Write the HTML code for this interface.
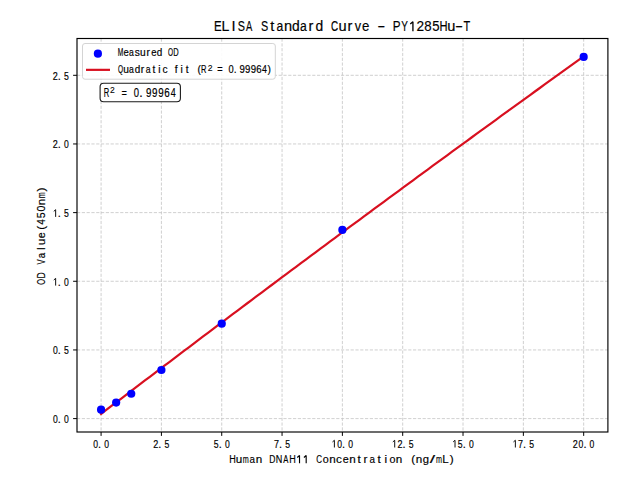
<!DOCTYPE html><html><head><meta charset="utf-8"><style>html,body{margin:0;padding:0;background:#fff;width:640px;height:480px;overflow:hidden}svg{display:block}text{font-family:"Liberation Sans",sans-serif;fill:#000;stroke:#000;stroke-width:0.18px}</style></head><body><svg width="640" height="480" viewBox="0 0 640 480"><rect x="0" y="0" width="640" height="480" fill="#fff"/><path d="M101.08,38.5V432.0M161.41,38.5V432.0M221.73,38.5V432.0M282.06,38.5V432.0M342.38,38.5V432.0M402.70,38.5V432.0M463.03,38.5V432.0M523.36,38.5V432.0M583.68,38.5V432.0M77.0,418.60H607.9M77.0,349.94H607.9M77.0,281.28H607.9M77.0,212.62H607.9M77.0,143.96H607.9M77.0,75.30H607.9" stroke="#c4c4c4" stroke-width="0.8" stroke-dasharray="3.2 1.6" fill="none"/><path d="M101.08,413.90 L105.95,410.17 L110.83,406.46 L115.70,402.74 L120.58,399.03 L125.45,395.31 L130.33,391.60 L135.20,387.90 L140.08,384.19 L144.95,380.49 L149.83,376.79 L154.70,373.09 L159.58,369.39 L164.45,365.70 L169.33,362.01 L174.20,358.32 L179.08,354.63 L183.95,350.95 L188.83,347.26 L193.70,343.58 L198.57,339.91 L203.45,336.23 L208.32,332.56 L213.20,328.88 L218.07,325.22 L222.95,321.55 L227.82,317.88 L232.70,314.22 L237.57,310.56 L242.45,306.90 L247.32,303.25 L252.20,299.59 L257.07,295.94 L261.95,292.29 L266.82,288.65 L271.70,285.00 L276.57,281.36 L281.45,277.72 L286.32,274.08 L291.20,270.45 L296.07,266.81 L300.94,263.18 L305.82,259.55 L310.69,255.92 L315.57,252.30 L320.44,248.68 L325.32,245.06 L330.19,241.44 L335.07,237.82 L339.94,234.21 L344.82,230.60 L349.69,226.99 L354.57,223.38 L359.44,219.78 L364.32,216.18 L369.19,212.58 L374.07,208.98 L378.94,205.39 L383.82,201.79 L388.69,198.20 L393.56,194.61 L398.44,191.03 L403.31,187.44 L408.19,183.86 L413.06,180.28 L417.94,176.70 L422.81,173.13 L427.69,169.55 L432.56,165.98 L437.44,162.41 L442.31,158.85 L447.19,155.28 L452.06,151.72 L456.94,148.16 L461.81,144.61 L466.69,141.05 L471.56,137.50 L476.44,133.95 L481.31,130.40 L486.19,126.85 L491.06,123.31 L495.93,119.77 L500.81,116.23 L505.68,112.69 L510.56,109.15 L515.43,105.62 L520.31,102.09 L525.18,98.56 L530.06,95.04 L534.93,91.51 L539.81,87.99 L544.68,84.47 L549.56,80.96 L554.43,77.44 L559.31,73.93 L564.18,70.42 L569.06,66.91 L573.93,63.40 L578.81,59.90 L583.68,56.40" stroke="#d81020" stroke-width="2.2" fill="none" stroke-linecap="square"/><circle cx="101.08" cy="409.67" r="4.1" fill="#0000ff"/><circle cx="116.16" cy="402.53" r="4.1" fill="#0000ff"/><circle cx="131.24" cy="393.75" r="4.1" fill="#0000ff"/><circle cx="161.41" cy="369.99" r="4.1" fill="#0000ff"/><circle cx="221.73" cy="323.71" r="4.1" fill="#0000ff"/><circle cx="342.38" cy="229.92" r="4.1" fill="#0000ff"/><circle cx="583.68" cy="56.90" r="4.1" fill="#0000ff"/><rect x="77.0" y="38.5" width="530.90" height="393.50" fill="none" stroke="#000" stroke-width="1.15"/><path d="M101.08,432.0v3.9M161.41,432.0v3.9M221.73,432.0v3.9M282.06,432.0v3.9M342.38,432.0v3.9M402.70,432.0v3.9M463.03,432.0v3.9M523.36,432.0v3.9M583.68,432.0v3.9M77.0,418.60h-3.9M77.0,349.94h-3.9M77.0,281.28h-3.9M77.0,212.62h-3.9M77.0,143.96h-3.9M77.0,75.30h-3.9" stroke="#000" stroke-width="1.0" fill="none"/><g style="stroke-width:0.18px"><text transform="translate(93.13,447.50) scale(0.789,1)" font-size="10.9">0</text><text x="98.01" y="447.50" font-size="10.9">.</text><text transform="translate(104.24,447.50) scale(0.789,1)" font-size="10.9">0</text></g><g style="stroke-width:0.18px"><text transform="translate(153.34,447.50) scale(0.828,1)" font-size="10.9">2</text><text x="158.34" y="447.50" font-size="10.9">.</text><text transform="translate(164.56,447.50) scale(0.795,1)" font-size="10.9">5</text></g><g style="stroke-width:0.18px"><text transform="translate(213.77,447.50) scale(0.795,1)" font-size="10.9">5</text><text x="218.66" y="447.50" font-size="10.9">.</text><text transform="translate(224.89,447.50) scale(0.789,1)" font-size="10.9">0</text></g><g style="stroke-width:0.18px"><text transform="translate(273.98,447.50) scale(0.830,1)" font-size="10.9">7</text><text x="278.99" y="447.50" font-size="10.9">.</text><text transform="translate(285.21,447.50) scale(0.795,1)" font-size="10.9">5</text></g><g style="stroke-width:0.18px"><path d="M334.38,447.50V440.28L332.49,441.95" fill="none" stroke="#000" stroke-width="0.94" stroke-linejoin="miter" stroke-miterlimit="2"/><text transform="translate(337.21,447.50) scale(0.789,1)" font-size="10.9">0</text><text x="342.09" y="447.50" font-size="10.9">.</text><text transform="translate(348.32,447.50) scale(0.789,1)" font-size="10.9">0</text></g><g style="stroke-width:0.18px"><path d="M394.71,447.50V440.28L392.82,441.95" fill="none" stroke="#000" stroke-width="0.94" stroke-linejoin="miter" stroke-miterlimit="2"/><text transform="translate(397.42,447.50) scale(0.828,1)" font-size="10.9">2</text><text x="402.41" y="447.50" font-size="10.9">.</text><text transform="translate(408.64,447.50) scale(0.795,1)" font-size="10.9">5</text></g><g style="stroke-width:0.18px"><path d="M455.03,447.50V440.28L453.14,441.95" fill="none" stroke="#000" stroke-width="0.94" stroke-linejoin="miter" stroke-miterlimit="2"/><text transform="translate(457.85,447.50) scale(0.795,1)" font-size="10.9">5</text><text x="462.74" y="447.50" font-size="10.9">.</text><text transform="translate(468.97,447.50) scale(0.789,1)" font-size="10.9">0</text></g><g style="stroke-width:0.18px"><path d="M515.36,447.50V440.28L513.47,441.95" fill="none" stroke="#000" stroke-width="0.94" stroke-linejoin="miter" stroke-miterlimit="2"/><text transform="translate(518.06,447.50) scale(0.830,1)" font-size="10.9">7</text><text x="523.06" y="447.50" font-size="10.9">.</text><text transform="translate(529.29,447.50) scale(0.795,1)" font-size="10.9">5</text></g><g style="stroke-width:0.18px"><text transform="translate(572.84,447.50) scale(0.828,1)" font-size="10.9">2</text><text transform="translate(578.51,447.50) scale(0.789,1)" font-size="10.9">0</text><text x="583.39" y="447.50" font-size="10.9">.</text><text transform="translate(589.62,447.50) scale(0.789,1)" font-size="10.9">0</text></g><g style="stroke-width:0.18px"><text transform="translate(52.92,422.90) scale(0.789,1)" font-size="10.9">0</text><text x="57.80" y="422.90" font-size="10.9">.</text><text transform="translate(64.03,422.90) scale(0.789,1)" font-size="10.9">0</text></g><g style="stroke-width:0.18px"><text transform="translate(52.92,354.24) scale(0.789,1)" font-size="10.9">0</text><text x="57.80" y="354.24" font-size="10.9">.</text><text transform="translate(64.02,354.24) scale(0.795,1)" font-size="10.9">5</text></g><g style="stroke-width:0.18px"><path d="M55.65,285.58V278.36L53.76,280.03" fill="none" stroke="#000" stroke-width="0.94" stroke-linejoin="miter" stroke-miterlimit="2"/><text x="57.80" y="285.58" font-size="10.9">.</text><text transform="translate(64.03,285.58) scale(0.789,1)" font-size="10.9">0</text></g><g style="stroke-width:0.18px"><path d="M55.65,216.92V209.70L53.76,211.37" fill="none" stroke="#000" stroke-width="0.94" stroke-linejoin="miter" stroke-miterlimit="2"/><text x="57.80" y="216.92" font-size="10.9">.</text><text transform="translate(64.02,216.92) scale(0.795,1)" font-size="10.9">5</text></g><g style="stroke-width:0.18px"><text transform="translate(52.80,148.26) scale(0.828,1)" font-size="10.9">2</text><text x="57.80" y="148.26" font-size="10.9">.</text><text transform="translate(64.03,148.26) scale(0.789,1)" font-size="10.9">0</text></g><g style="stroke-width:0.18px"><text transform="translate(52.80,79.60) scale(0.828,1)" font-size="10.9">2</text><text x="57.80" y="79.60" font-size="10.9">.</text><text transform="translate(64.02,79.60) scale(0.795,1)" font-size="10.9">5</text></g><g style="stroke-width:0.15px"><text transform="translate(213.95,31.30) scale(0.786,1)" font-size="14.6">E</text><text transform="translate(221.51,31.30) scale(0.967,1)" font-size="14.6">L</text><text x="231.53" y="31.30" font-size="14.6">I</text><text transform="translate(237.73,31.30) scale(0.740,1)" font-size="14.6">S</text><text transform="translate(245.98,31.30) scale(0.643,1)" font-size="14.6">A</text><text transform="translate(261.07,31.30) scale(0.740,1)" font-size="14.6">S</text><text x="270.36" y="31.30" font-size="14.6">t</text><text transform="translate(276.60,31.30) scale(0.830,1)" font-size="14.6">a</text><text x="283.93" y="31.30" font-size="14.6">n</text><text transform="translate(292.09,31.30) scale(0.948,1)" font-size="14.6">d</text><text transform="translate(299.93,31.30) scale(0.830,1)" font-size="14.6">a</text><text x="308.54" y="31.30" font-size="14.6">r</text><text transform="translate(315.42,31.30) scale(0.948,1)" font-size="14.6">d</text><text transform="translate(331.06,31.30) scale(0.673,1)" font-size="14.6">C</text><text x="338.40" y="31.30" font-size="14.6">u</text><text x="347.43" y="31.30" font-size="14.6">r</text><text transform="translate(354.85,31.30) scale(0.864,1)" font-size="14.6">v</text><text transform="translate(362.11,31.30) scale(0.908,1)" font-size="14.6">e</text><text transform="translate(377.31,31.30) scale(1.658,1)" font-size="14.6">-</text><text transform="translate(392.83,31.30) scale(0.801,1)" font-size="14.6">P</text><text transform="translate(401.34,31.30) scale(0.684,1)" font-size="14.6">Y</text><path d="M412.92,31.30V21.65L410.27,23.99" fill="none" stroke="#000" stroke-width="1.32" stroke-linejoin="miter" stroke-miterlimit="2"/><text transform="translate(416.43,31.30) scale(0.936,1)" font-size="14.6">2</text><text transform="translate(424.32,31.30) scale(0.908,1)" font-size="14.6">8</text><text transform="translate(432.15,31.30) scale(0.899,1)" font-size="14.6">5</text><text transform="translate(439.54,31.30) scale(0.763,1)" font-size="14.6">H</text><text x="447.29" y="31.30" font-size="14.6">u</text><text transform="translate(455.09,31.30) scale(1.658,1)" font-size="14.6">-</text><text transform="translate(463.54,31.30) scale(0.754,1)" font-size="14.6">T</text></g><g style="stroke-width:0.18px"><text transform="translate(229.18,463.20) scale(0.775,1)" font-size="11.7">H</text><text x="235.87" y="463.20" font-size="11.7">u</text><text transform="translate(242.77,463.20) scale(0.618,1)" font-size="11.7">m</text><text transform="translate(249.50,463.20) scale(0.843,1)" font-size="11.7">a</text><text x="255.86" y="463.20" font-size="11.7">n</text><text transform="translate(269.22,463.20) scale(0.731,1)" font-size="11.7">D</text><text transform="translate(275.84,463.20) scale(0.775,1)" font-size="11.7">N</text><text transform="translate(283.24,463.20) scale(0.653,1)" font-size="11.7">A</text><text transform="translate(289.17,463.20) scale(0.775,1)" font-size="11.7">H</text><path d="M299.52,463.20V455.49L297.25,457.49" fill="none" stroke="#000" stroke-width="1.13" stroke-linejoin="miter" stroke-miterlimit="2"/><path d="M306.18,463.20V455.49L303.92,457.49" fill="none" stroke="#000" stroke-width="1.13" stroke-linejoin="miter" stroke-miterlimit="2"/><text transform="translate(316.18,463.20) scale(0.684,1)" font-size="11.7">C</text><text transform="translate(322.80,463.20) scale(0.917,1)" font-size="11.7">o</text><text x="329.19" y="463.20" font-size="11.7">n</text><text x="336.10" y="463.20" font-size="11.7">c</text><text transform="translate(342.79,463.20) scale(0.923,1)" font-size="11.7">e</text><text x="349.19" y="463.20" font-size="11.7">n</text><text x="357.45" y="463.20" font-size="11.7">t</text><text x="363.54" y="463.20" font-size="11.7">r</text><text transform="translate(369.50,463.20) scale(0.843,1)" font-size="11.7">a</text><text x="377.44" y="463.20" font-size="11.7">t</text><text x="384.49" y="463.20" font-size="11.7">i</text><text transform="translate(389.46,463.20) scale(0.917,1)" font-size="11.7">o</text><text x="395.85" y="463.20" font-size="11.7">n</text><text x="411.37" y="463.20" font-size="11.7">(</text><text x="415.85" y="463.20" font-size="11.7">n</text><text transform="translate(422.77,463.20) scale(0.963,1)" font-size="11.7">g</text><text transform="translate(429.78,463.20) scale(1.641,1)" font-size="11.7">/</text><text transform="translate(436.10,463.20) scale(0.618,1)" font-size="11.7">m</text><text transform="translate(442.30,463.20) scale(0.982,1)" font-size="11.7">L</text><text x="449.63" y="463.20" font-size="11.7">)</text></g><g transform="translate(45.4,235.3) rotate(-90)"><g style="stroke-width:0.18px"><text transform="translate(-49.55,0.00) scale(0.634,1)" font-size="11.7">O</text><text transform="translate(-43.23,0.00) scale(0.731,1)" font-size="11.7">D</text><text transform="translate(-29.23,0.00) scale(0.658,1)" font-size="11.7">V</text><text transform="translate(-22.95,0.00) scale(0.843,1)" font-size="11.7">a</text><text x="-14.64" y="0.00" font-size="11.7">l</text><text x="-9.91" y="0.00" font-size="11.7">u</text><text transform="translate(-2.99,0.00) scale(0.923,1)" font-size="11.7">e</text><text x="5.59" y="0.00" font-size="11.7">(</text><text transform="translate(10.57,0.00) scale(0.859,1)" font-size="11.7">4</text><text transform="translate(17.04,0.00) scale(0.913,1)" font-size="11.7">5</text><text transform="translate(23.72,0.00) scale(0.906,1)" font-size="11.7">0</text><text x="30.07" y="0.00" font-size="11.7">n</text><text transform="translate(36.99,0.00) scale(0.618,1)" font-size="11.7">m</text><text x="43.85" y="0.00" font-size="11.7">)</text></g></g><rect x="82.5" y="43.5" width="192.8" height="35.7" rx="2.5" fill="#fff" fill-opacity="0.9" stroke="#d4d4d4" stroke-width="1"/><circle cx="97.9" cy="53.7" r="4.1" fill="#0000ff"/><path d="M86,69.85H110" stroke="#d81020" stroke-width="2.2"/><g style="stroke-width:0.18px"><text transform="translate(117.83,55.90) scale(0.651,1)" font-size="10.2">M</text><text transform="translate(123.53,55.90) scale(0.929,1)" font-size="10.2">e</text><text transform="translate(129.12,55.90) scale(0.848,1)" font-size="10.2">a</text><text x="134.76" y="55.90" font-size="10.2">s</text><text x="139.99" y="55.90" font-size="10.2">u</text><text x="146.43" y="55.90" font-size="10.2">r</text><text transform="translate(151.31,55.90) scale(0.929,1)" font-size="10.2">e</text><text transform="translate(156.85,55.90) scale(0.969,1)" font-size="10.2">d</text><text transform="translate(168.07,55.90) scale(0.638,1)" font-size="10.2">O</text><text transform="translate(173.32,55.90) scale(0.736,1)" font-size="10.2">D</text></g><g style="stroke-width:0.18px"><text transform="translate(118.07,73.20) scale(0.638,1)" font-size="10.2">Q</text><text x="123.33" y="73.20" font-size="10.2">u</text><text transform="translate(129.12,73.20) scale(0.848,1)" font-size="10.2">a</text><text transform="translate(134.63,73.20) scale(0.969,1)" font-size="10.2">d</text><text x="140.87" y="73.20" font-size="10.2">r</text><text transform="translate(145.79,73.20) scale(0.848,1)" font-size="10.2">a</text><text x="152.48" y="73.20" font-size="10.2">t</text><text x="158.36" y="73.20" font-size="10.2">i</text><text x="162.41" y="73.20" font-size="10.2">c</text><text x="174.66" y="73.20" font-size="10.2">f</text><text x="180.58" y="73.20" font-size="10.2">i</text><text x="185.81" y="73.20" font-size="10.2">t</text><text x="197.39" y="73.20" font-size="10.2">(</text><text transform="translate(201.10,73.20) scale(0.734,1)" font-size="10.2">R</text></g><text x="207.81" y="70.8" font-size="8.67" style="stroke-width:0.1px">2</text><g style="stroke-width:0.18px"><text transform="translate(217.32,73.20) scale(0.897,1)" font-size="10.2">=</text><text transform="translate(228.52,73.20) scale(0.912,1)" font-size="10.2">0</text><text x="233.68" y="73.20" font-size="10.2">.</text><text transform="translate(239.54,73.20) scale(0.943,1)" font-size="10.2">9</text><text transform="translate(245.09,73.20) scale(0.943,1)" font-size="10.2">9</text><text transform="translate(250.65,73.20) scale(0.943,1)" font-size="10.2">9</text><text transform="translate(256.17,73.20) scale(0.944,1)" font-size="10.2">6</text><text transform="translate(262.01,73.20) scale(0.865,1)" font-size="10.2">4</text><text x="267.58" y="73.20" font-size="10.2">)</text></g><rect x="100.1" y="83.3" width="80.3" height="18.4" rx="3.5" fill="#fff" stroke="#1a1a1a" stroke-width="1.1"/><g style="stroke-width:0.18px"><text transform="translate(103.71,97.00) scale(0.614,1)" font-size="12.4">R</text></g><text x="109.95" y="92.5" font-size="8.55" style="stroke-width:0.1px">2</text><g style="stroke-width:0.18px"><text transform="translate(121.55,97.00) scale(0.751,1)" font-size="12.4">=</text><text transform="translate(133.85,97.00) scale(0.763,1)" font-size="12.4">0</text><text x="139.16" y="97.00" font-size="12.4">.</text><text transform="translate(145.98,97.00) scale(0.789,1)" font-size="12.4">9</text><text transform="translate(152.09,97.00) scale(0.789,1)" font-size="12.4">9</text><text transform="translate(158.20,97.00) scale(0.789,1)" font-size="12.4">9</text><text transform="translate(164.27,97.00) scale(0.790,1)" font-size="12.4">6</text><text transform="translate(170.67,97.00) scale(0.724,1)" font-size="12.4">4</text></g></svg></body></html>
